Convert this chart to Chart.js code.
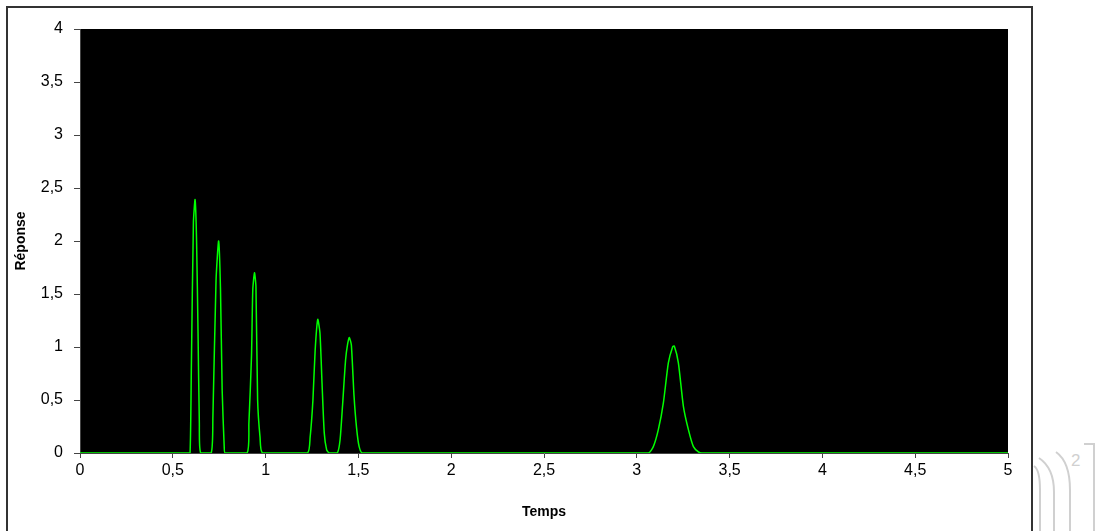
<!DOCTYPE html>
<html>
<head>
<meta charset="utf-8">
<script src="https://cdn.jsdelivr.net/npm/chart.js@4/dist/chart.umd.min.js"></script>
<style>
    body { margin: 0; background: #fff; }
    #wrap { position: relative; width: 1095px; height: 531px; overflow: hidden; }
    #frame { position: absolute; left: 6px; top: 6px; width: 1027px; height: 540px;
             border: 2px solid #333; box-sizing: border-box; }
    #deco { position: absolute; left: 0; top: 0; }
    canvas { position: absolute; left: 0; top: 0; }
</style>
</head>
<body>
<div id="wrap">
    <div id="frame"></div>
    <svg id="deco" width="1095" height="531">
        <g fill="none" stroke="#d0d0d0" stroke-width="2">
            <path d="M1034 466 Q1040 470 1040 490 L1040 531"/>
            <path d="M1039 458 Q1054 468 1054 492 L1054 531"/>
            <path d="M1056 452 Q1070 462 1070 490 L1070 531"/>
            <path d="M1084 444 L1094 444 L1094 531"/>
        </g>
        <text x="1071" y="466" font-family="Liberation Sans, Arial" font-size="17" fill="#d0d0d0">2</text>
    </svg>
    <canvas id="chromChart" width="1095" height="531"></canvas>
</div>
<script>
// Temps (x) and Réponse (y)
var temps = [0, 0.58, 0.593, 0.600, 0.611, 0.620, 0.628, 0.636, 0.643, 0.650,
             0.707, 0.716, 0.733, 0.747, 0.757, 0.766, 0.777, 0.782,
             0.900, 0.910, 0.924, 0.931, 0.940, 0.948, 0.957, 0.970, 0.984,
             1.225, 1.240, 1.255, 1.267, 1.281, 1.293, 1.304, 1.316, 1.329, 1.343,
             1.386, 1.401, 1.415, 1.431, 1.442, 1.451, 1.462, 1.476, 1.490, 1.504, 1.522,
             3.062, 3.089, 3.116, 3.143, 3.170, 3.193, 3.202, 3.224, 3.251, 3.278, 3.305, 3.332, 3.350,
             5];
var reponse = [0, 0, 0, 0.81, 2.17, 2.39, 2.01, 1.13, 0.28, 0,
               0, 0.34, 1.63, 2.0, 1.54, 0.59, 0.06, 0,
               0, 0.28, 0.91, 1.54, 1.70, 1.57, 0.50, 0.15, 0,
               0, 0.15, 0.50, 0.97, 1.26, 1.13, 0.66, 0.19, 0.03, 0,
               0, 0.12, 0.46, 0.88, 1.03, 1.09, 1.02, 0.55, 0.24, 0.06, 0,
               0, 0.06, 0.22, 0.47, 0.85, 1.00, 1.01, 0.85, 0.44, 0.22, 0.06, 0.01, 0,
               0];
var xTicks = [0, 0.5, 1, 1.5, 2, 2.5, 3, 3.5, 4, 4.5, 5];
var yTicks = [0, 0.5, 1, 1.5, 2, 2.5, 3, 3.5, 4];

var points = temps.map(function (t, i) { return { x: t, y: reponse[i] }; });

function frLabel(v) {
    return String(v).replace('.', ',');
}

var blackPlot = {
    id: 'blackPlot',
    beforeDraw: function (chart) {
        var a = chart.chartArea;
        var c = chart.ctx;
        c.save();
        c.fillStyle = '#000';
        c.fillRect(a.left, a.top, a.right - a.left, a.bottom - a.top);
        c.restore();
    }
};

var ctx = document.getElementById('chromChart').getContext('2d');
var chromChart = new Chart(ctx, {
    type: 'scatter',
    data: {
        datasets: [{
            label: 'Réponse',
            data: points,
            showLine: true,
            borderColor: '#00ff00',
            borderWidth: 1.5,
            pointRadius: 0,
            tension: 0.2
        }]
    },
    options: {
        responsive: false,
        animation: false,
        layout: { padding: { top: 29, right: 87, left: 0, bottom: 0 } },
        plugins: {
            legend: { display: false },
            tooltip: { enabled: false }
        },
        scales: {
            x: {
                type: 'linear',
                min: 0,
                max: 5,
                afterBuildTicks: function (scale) {
                    scale.ticks = xTicks.map(function (v) { return { value: v }; });
                },
                afterFit: function (scale) { scale.height = 78; },
                grid: { drawOnChartArea: false, tickLength: 5, color: '#444' },
                border: { color: '#444', width: 1 },
                ticks: {
                    color: '#000',
                    padding: 3,
                    maxRotation: 0,
                    font: { family: 'Liberation Sans, Arial', size: 16 },
                    callback: function (v) { return frLabel(v); }
                },
                title: {
                    display: true,
                    text: 'Temps',
                    color: '#000',
                    padding: { top: 0, bottom: 10 },
                    font: { family: 'Liberation Sans, Arial', size: 14, weight: 'bold' }
                }
            },
            y: {
                min: 0,
                max: 4,
                afterBuildTicks: function (scale) {
                    scale.ticks = yTicks.map(function (v) { return { value: v }; });
                },
                afterFit: function (scale) { scale.width = 80; },
                grid: { drawOnChartArea: false, tickLength: 6, color: '#444' },
                border: { color: '#444', width: 1 },
                ticks: {
                    color: '#000',
                    padding: 11,
                    font: { family: 'Liberation Sans, Arial', size: 16 },
                    callback: function (v) { return frLabel(v); }
                },
                title: {
                    display: true,
                    text: 'Réponse',
                    color: '#000',
                    padding: { top: 13, bottom: 0 },
                    font: { family: 'Liberation Sans, Arial', size: 14, weight: 'bold' }
                }
            }
        }
    },
    plugins: [blackPlot]
});
</script>
</body>
</html>
